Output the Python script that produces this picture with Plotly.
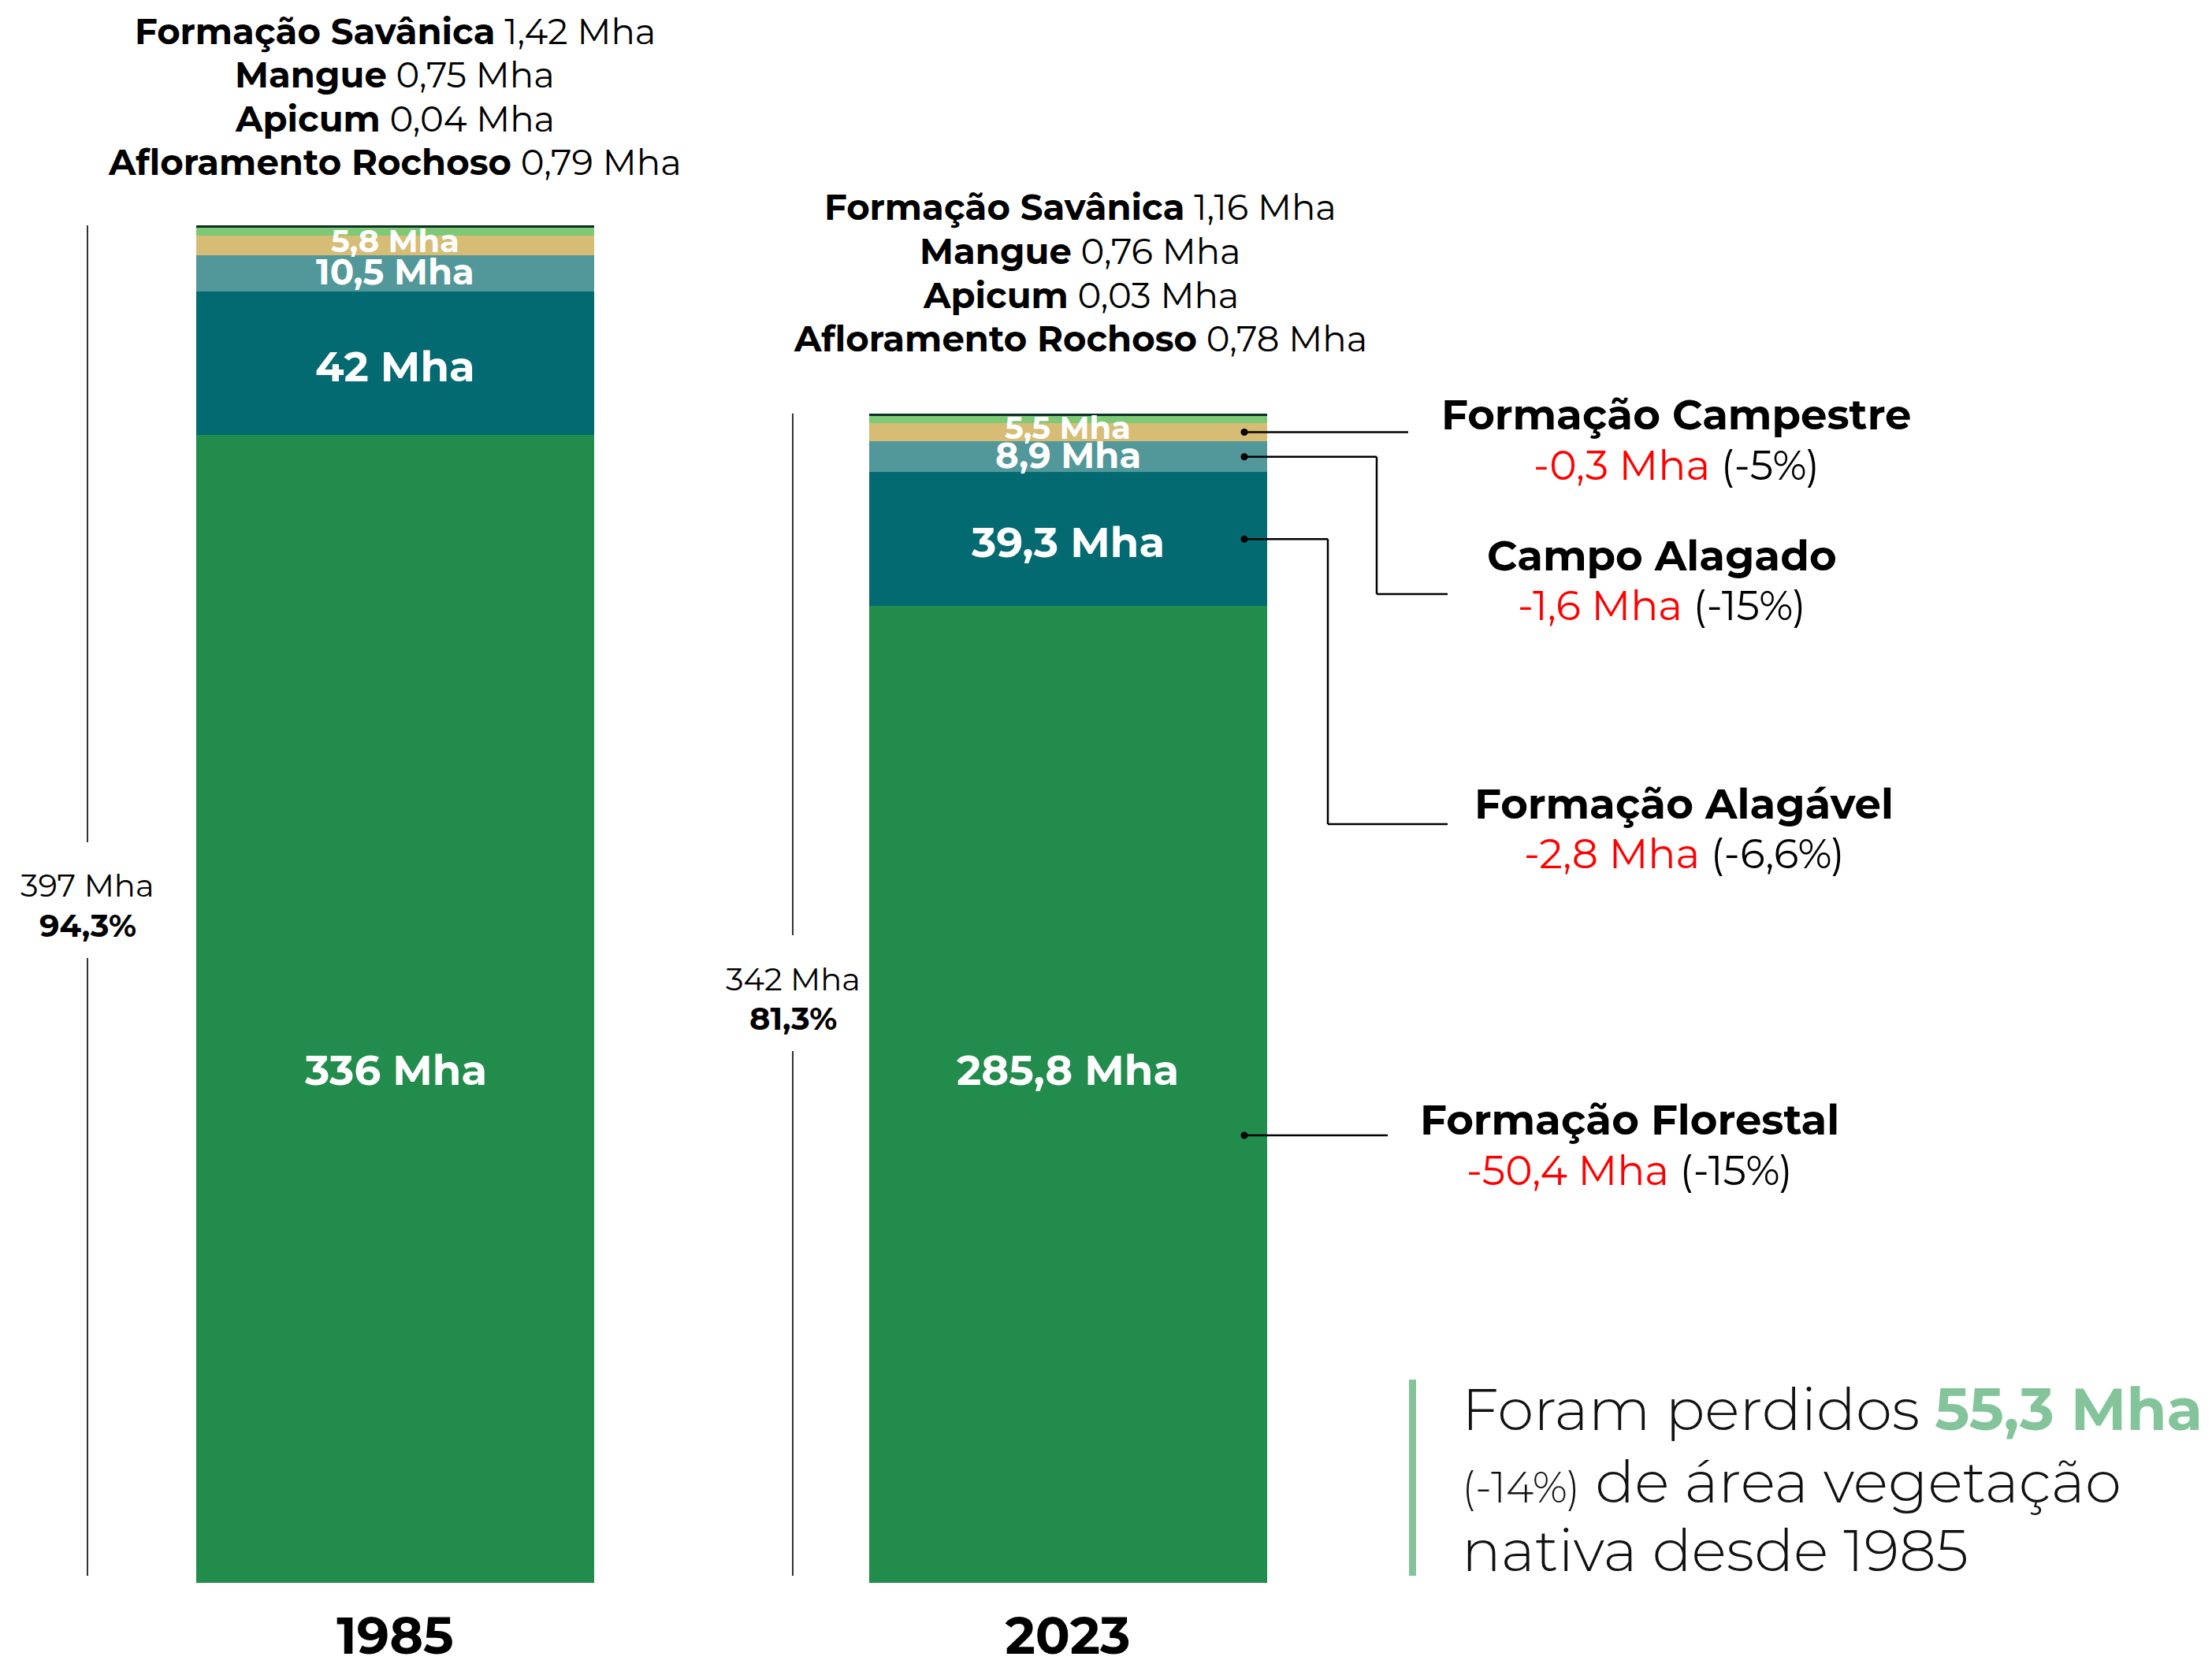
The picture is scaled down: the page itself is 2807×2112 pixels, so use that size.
import plotly.graph_objects as go

# ---------------- data ----------------
categories = ["1985", "2023"]
classes = ["Formação Florestal", "Formação Alagável", "Campo Alagado", "Formação Campestre",
           "Formação Savânica", "Apicum", "Afloramento Rochoso", "Mangue"]
area_1985 = [336, 42, 10.5, 5.8, 1.42, 0.04, 0.79, 0.75]
area_2023 = [285.8, 39.3, 8.9, 5.5, 1.16, 0.03, 0.78, 0.76]
class_colors = ["#218c4b", "#046a72", "#52979a", "#d6bc74",
                "#7dc975", "#7dc975", "#7dc975", "#0b2f20"]
labelled_classes = ["Formação Florestal", "Formação Alagável", "Campo Alagado", "Formação Campestre"]
small_classes = ["Formação Savânica", "Mangue", "Apicum", "Afloramento Rochoso"]
total_mha = [397, 342]
total_pct = [94.3, 81.3]
change_classes = ["Formação Campestre", "Campo Alagado", "Formação Alagável", "Formação Florestal"]
change_mha = [-0.3, -1.6, -2.8, -50.4]
change_pct = [-5, -15, -6.6, -15]
loss_mha = 55.3
loss_pct = -14
loss_since = "1985"

# ---------------- geometry / style ----------------
REF_W, REF_H = 2807, 2112
OFF = 8                      # default page margin around the plot div
W, H = REF_W - 2 * OFF, REF_H - 2 * OFF
BOTTOM_REF = 2009            # bar baseline in page pixels
BOTTOM = BOTTOM_REF - OFF    # bar baseline in figure pixels
PX_PER_MHA = 4.337
Y_MAX = BOTTOM / PX_PER_MHA
CAT_PX = 853.5               # pixels between category centres
FIRST_CENTER = 501.5 - OFF
X_RANGE = [-FIRST_CENTER / CAT_PX, (W - FIRST_CENTER) / CAT_PX]
BAR_W = 505 / CAT_PX
FONT = "Montserrat, Inter, 'Open Sans', sans-serif"
RED = "#ff0000"
CALLOUT_GREEN = "#84c49a"


def fmt(v, nd=None):
    s = f"{v:.{nd}f}" if nd is not None else f"{v:g}"
    return s.replace(".", ",")


def pxx(x):
    return (x - OFF) / W


def pxy(y):
    return (BOTTOM_REF - y) / BOTTOM


def mha_to_px(v):
    return BOTTOM_REF - v * PX_PER_MHA


series = {"1985": area_1985, "2023": area_2023}

fig = go.Figure()
for i, cls in enumerate(classes):
    fig.add_trace(go.Bar(
        x=categories,
        y=[area_1985[i], area_2023[i]],
        name=cls,
        marker=dict(color=class_colors[i], line=dict(width=0)),
        width=BAR_W,
        hoverinfo="skip",
        showlegend=False,
    ))

annotations = []
shapes = []


def text_at(x, y, text, size, color="black", anchor="center", weight=None):
    f = dict(family=FONT, size=size, color=color)
    if weight is not None:
        f["weight"] = weight
    annotations.append(dict(
        x=pxx(x), y=pxy(y), xref="paper", yref="paper", showarrow=False,
        text=text, font=f, xanchor=anchor, yanchor="middle", align=anchor))


# ---- labels inside the bars ----
label_sizes = {"Formação Florestal": 53, "Formação Alagável": 53,
               "Campo Alagado": 45, "Formação Campestre": 40}
label_nudge_px = {"Formação Florestal": 0, "Formação Alagável": -4,
                  "Campo Alagado": 2, "Formação Campestre": 6}
for j, cat in enumerate(categories):
    vals = series[cat]
    base = 0
    for i, cls in enumerate(classes):
        v = vals[i]
        if cls in labelled_classes:
            ymid = base + v / 2 if cls != "Formação Florestal" else 150
            ymid += label_nudge_px[cls] / PX_PER_MHA
            annotations.append(dict(
                x=j, y=ymid, xref="x", yref="y", showarrow=False,
                text=f"<b>{fmt(v)} Mha</b>",
                font=dict(family=FONT, size=label_sizes[cls], color="white"),
                xanchor="center", yanchor="middle"))
        base += v

# ---- small-classes lists above the bars ----
list_pos = {"1985": (501, 39), "2023": (1371, 263)}
LIST_STEP = 55.5
for cat in categories:
    vals = series[cat]
    x, y0 = list_pos[cat]
    for k, cls in enumerate(small_classes):
        v = vals[classes.index(cls)]
        text_at(x, y0 + k * LIST_STEP, f"<b>{cls}</b> {fmt(v, 2)} Mha", 45)

# ---- total brackets on the left ----
bracket_x = {"1985": 111, "2023": 1006}
bracket_text_y = {"1985": 1124, "2023": 1242}
for j, cat in enumerate(categories):
    top = mha_to_px(sum(series[cat]))
    x = bracket_x[cat]
    ty = bracket_text_y[cat]
    for (a, b) in [(top, ty - 55), (ty + 92, 2000)]:
        shapes.append(dict(type="line", xref="paper", yref="paper",
                           x0=pxx(x), x1=pxx(x), y0=pxy(a), y1=pxy(b),
                           line=dict(color="#333333", width=2)))
    text_at(x, ty, f"{total_mha[j]} Mha", 40)
    text_at(x, ty + 50, f"<b>{fmt(total_pct[j])}%</b>", 40)

# ---- change callouts on the right of the 2023 bar ----
dot_x = 1579
cum = {}
base = 0
for i, cls in enumerate(classes):
    cum[cls] = (base, base + area_2023[i])
    base += area_2023[i]


def seg_mid_px(cls):
    lo, hi = cum[cls]
    return mha_to_px((lo + hi) / 2)


callouts = {
    "Formação Campestre": dict(path=[(1787, None)], text=(2127, 526)),
    "Campo Alagado": dict(path=[(1747, None), (1747, 754), (1837, 754)], text=(2109, 705)),
    "Formação Alagável": dict(path=[(1685, None), (1685, 1046), (1837, 1046)], text=(2137, 1020)),
    "Formação Florestal": dict(path=[(1761, None)], text=(2068, 1421)),
}
florestal_dot_px = 1441
for k, cls in enumerate(change_classes):
    c = callouts[cls]
    y0 = florestal_dot_px if cls == "Formação Florestal" else seg_mid_px(cls)
    pts = [(dot_x, y0)] + [(x, y if y is not None else y0) for x, y in c["path"]]
    for (xa, ya), (xb, yb) in zip(pts[:-1], pts[1:]):
        shapes.append(dict(type="line", xref="paper", yref="paper",
                           x0=pxx(xa), x1=pxx(xb), y0=pxy(ya), y1=pxy(yb),
                           line=dict(color="black", width=2.5)))
    shapes.append(dict(type="circle", xref="paper", yref="paper",
                       xsizemode="pixel", ysizemode="pixel",
                       xanchor=pxx(dot_x), yanchor=pxy(y0),
                       x0=-4.5, x1=4.5, y0=-4.5, y1=4.5,
                       fillcolor="black", line=dict(width=0)))
    tx, ty = c["text"]
    text_at(tx, ty, f"<b>{cls}</b>", 53)
    text_at(tx, ty + 64,
            f"<span style='color:{RED}'>{fmt(change_mha[k])} Mha</span> ({fmt(change_pct[k])}%)", 52)

# ---- summary callout ----
shapes.append(dict(type="rect", xref="paper", yref="paper",
                   x0=pxx(1788), x1=pxx(1797), y0=pxy(1751), y1=pxy(2000),
                   fillcolor=CALLOUT_GREEN, line=dict(width=0)))
summary_lines = [
    (1788, f"Foram perdidos <b><span style='color:{CALLOUT_GREEN}'>{fmt(loss_mha)} Mha</span></b>"),
    (1880, f"<span style='font-size:54px'>({fmt(loss_pct)}%)</span> de área vegetação"),
    (1967, f"nativa desde {loss_since}"),
]
for y, t in summary_lines:
    text_at(1853, y, t, 74, color="#111111", anchor="left", weight=300)

fig.update_layout(
    width=W, height=H,
    barmode="stack",
    margin=dict(l=0, r=0, t=0, b=H - BOTTOM, pad=0, autoexpand=False),
    paper_bgcolor="white", plot_bgcolor="white",
    xaxis=dict(type="category", range=X_RANGE, showgrid=False, zeroline=False,
               showline=False, ticks="", ticklabelstandoff=24, automargin=False,
               tickfont=dict(family=FONT, size=65, color="black", weight="bold")),
    yaxis=dict(range=[0, Y_MAX], visible=False, showgrid=False, zeroline=False,
               automargin=False),
    annotations=annotations,
    shapes=shapes,
    showlegend=False,
)

fig.write_html("out.html")
